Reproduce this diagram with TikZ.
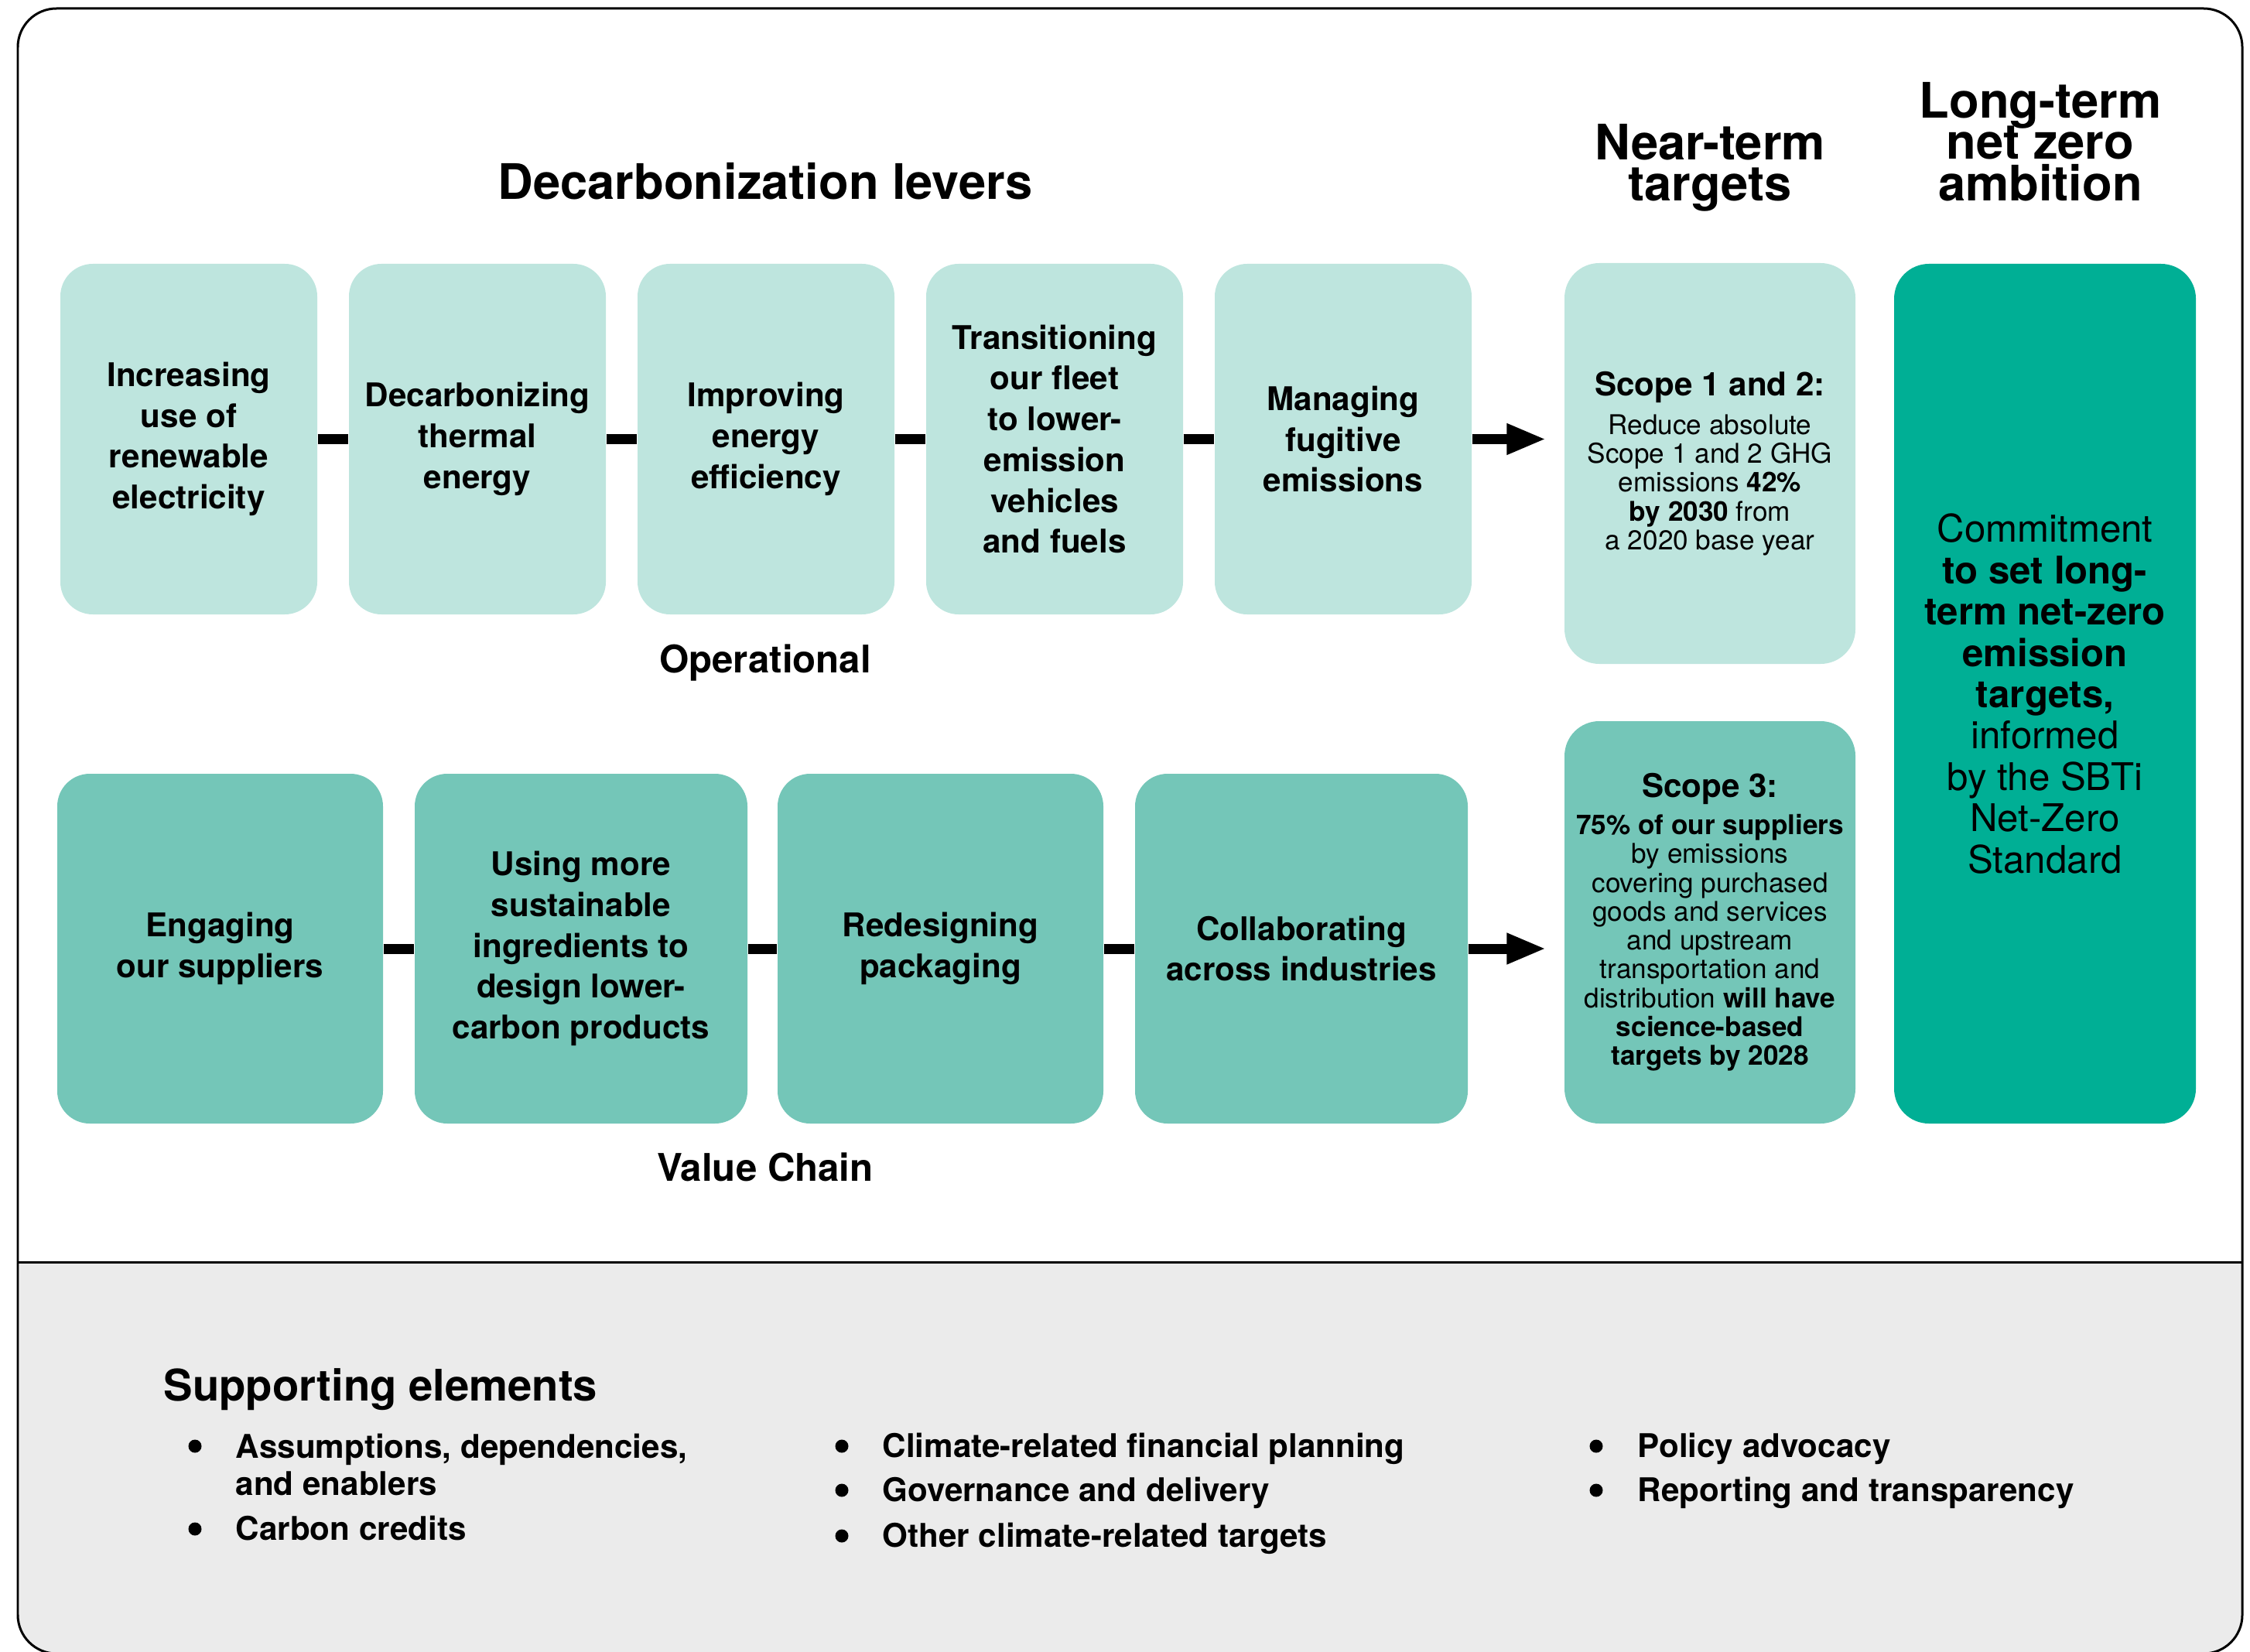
\documentclass[tikz,border=0pt]{standalone}
\usepackage{fontspec}
\setmainfont{TeX Gyre Heros}
\definecolor{oplight}{RGB}{190,229,222}
\definecolor{chainmid}{RGB}{116,198,184}
\definecolor{zerodark}{RGB}{0,175,149}
\definecolor{supportgrey}{RGB}{235,235,235}
\usetikzlibrary{calc, arrows, arrows.meta, shapes}
\tikzstyle{leverbox} = [
    rectangle,
    rounded corners = 0.42cm,
    minimum width = 3.32cm,
    minimum height = 4.53cm,
    inner sep = 0pt,
    align = center,
    font = \fontsize{12}{15}\selectfont\bfseries,
    fill = oplight
]
\tikzstyle{chainbox} = [
    leverbox,
    minimum height = 4.52cm,
    fill = chainmid
]
\tikzstyle{targetbox} = [
    rectangle,
    rounded corners = 0.45cm,
    minimum width = 3.76cm,
    inner sep = 0pt,
    align = center,
    font = \fontsize{10}{10.6}\selectfont
]
\tikzstyle{ambitionbox} = [
    rectangle,
    rounded corners = 0.45cm,
    minimum width = 3.90cm,
    minimum height = 11.11cm,
    inner sep = 0pt,
    align = center,
    font = \fontsize{14}{15.2}\selectfont,
    fill = zerodark
]
\tikzstyle{headline} = [
    inner sep = 0pt,
    align = center,
    font = {\fontsize{18}{15.3}\selectfont\bfseries\lineskiplimit -20pt\relax}
]
\tikzstyle{rowlabel} = [
    inner sep = 0pt,
    anchor = base,
    font = \fontsize{14}{16}\selectfont\bfseries
]
\tikzstyle{link} = [line width = 0.13cm]
\tikzstyle{flow} = [
    link,
    -{Triangle[length=0.51cm, width=0.37cm]},
    shorten >= 0.23cm
]
\tikzstyle{dot} = [circle, fill = black, inner sep = 0pt, minimum size = 0.17cm]
\tikzstyle{supportitem} = [
    inner sep = 0pt,
    align = left,
    font = \fontsize{12}{13.7}\selectfont\bfseries
]

\begin{document}
\begin{tikzpicture}

        \useasboundingbox (0,0) rectangle (29.08,-21.34);

        %% Frame
        \begin{scope}
            \clip (0,-16.31) rectangle (29.08,-21.34);
            \fill [supportgrey, rounded corners=0.5cm] (0.23,-0.11) rectangle (28.98,-21.37);
        \end{scope}
        \draw [line width=0.03cm, rounded corners=0.5cm] (0.23,-0.11) rectangle (28.98,-21.37);
        \draw [line width=0.03cm] (0.23,-16.31) -- (28.98,-16.31);

        %% Headings
        \node (levers) [headline, anchor=base] at (9.89,-2.58) {Decarbonization levers};
        \node (nearterm) [headline, anchor=north] at (22.10,-1.594) {Near-term\\targets};
        \node (longterm) [headline, anchor=north] at (26.37,-1.054) {Long-term\\net zero\\ambition};

        %% Operational
        \node (renewable) [leverbox] at (2.44,-5.675) {Increasing\\use of\\renewable\\electricity};
        \node (thermal) [leverbox] at (6.17,-5.675) {Decarbonizing\\thermal\\energy};
        \node (efficiency) [leverbox] at (9.90,-5.675) {Improving\\energy\\efficiency};
        \node (fleet) [leverbox] at (13.63,-5.675) {Transitioning\\our fleet\\to lower-\\emission\\vehicles\\and fuels};
        \node (fugitive) [leverbox] at (17.36,-5.675) {Managing\\fugitive\\emissions};
        \node (operational) [rowlabel] at (9.89,-8.69) {Operational};

        %% Value chain
        \node (suppliers) [chainbox, minimum width=4.21cm] at (2.845,-12.26) {Engaging\\our suppliers};
        \node (ingredients) [chainbox, minimum width=4.30cm] at (7.51,-12.26) {Using more\\sustainable\\ingredients to\\design lower-\\carbon products};
        \node (packaging) [chainbox, minimum width=4.21cm] at (12.155,-12.26) {Redesigning\\packaging};
        \node (industries) [chainbox, minimum width=4.30cm] at (16.82,-12.26) {Collaborating\\across industries};
        \node (valuechain) [rowlabel] at (9.89,-15.26) {Value Chain};

        %% Targets
        \node (scopeA) [targetbox, fill=oplight, minimum height=5.18cm] at (22.10,-5.99) {{\fontsize{12}{14}\selectfont\bfseries Scope 1 and 2:}\\[3.6pt]Reduce absolute\\Scope 1 and 2 GHG\\emissions \textbf{42\%}\\\textbf{by 2030} from\\a 2020 base year};
        \node (scopeB) [targetbox, fill=chainmid, minimum height=5.20cm] at (22.10,-11.92) {{\fontsize{12}{14}\selectfont\bfseries Scope 3:}\\[3pt]\textbf{75\% of our suppliers}\\by emissions\\covering purchased\\goods and services\\and upstream\\transportation and\\distribution \textbf{will have}\\\textbf{science-based}\\\textbf{targets by 2028}};
        \node (commitment) [ambitionbox] at (26.43,-8.965) {Commitment\\\textbf{to set long-}\\\textbf{term net-zero}\\\textbf{emission}\\\textbf{targets,}\\informed\\by the SBTi\\Net-Zero\\Standard};

        %% Connectors
        \draw [link] (renewable) -- (thermal);
        \draw [link] (thermal) -- (efficiency);
        \draw [link] (efficiency) -- (fleet);
        \draw [link] (fleet) -- (fugitive);
        \draw [flow] (fugitive) -- (fugitive -| scopeA.west);
        \draw [link] (suppliers) -- (ingredients);
        \draw [link] (ingredients) -- (packaging);
        \draw [link] (packaging) -- (industries);
        \draw [flow] (industries) -- (industries -| scopeB.west);

        %% Supporting elements
        \node (support) [anchor=base west, inner sep=0pt, font=\fontsize{16}{18}\selectfont\bfseries] at (2.11,-18.10) {Supporting elements};
        \node (assumptionsdot) [dot] at (2.52,-18.69) {};
        \node (assumptions) [supportitem, anchor=north west] at (3.04,-18.526) {Assumptions, dependencies,\\and enablers};
        \node (creditsdot) [dot] at (2.52,-19.76) {};
        \node (credits) [supportitem, anchor=base west] at (3.04,-19.90) {Carbon credits};
        \node (planningdot) [dot] at (10.88,-18.69) {};
        \node (planning) [supportitem, anchor=base west] at (11.40,-18.83) {Climate-related financial planning};
        \node (governancedot) [dot] at (10.88,-19.26) {};
        \node (governance) [supportitem, anchor=base west] at (11.40,-19.40) {Governance and delivery};
        \node (othertargetsdot) [dot] at (10.88,-19.85) {};
        \node (othertargets) [supportitem, anchor=base west] at (11.40,-19.99) {Other climate-related targets};
        \node (advocacydot) [dot] at (20.63,-18.69) {};
        \node (advocacy) [supportitem, anchor=base west] at (21.16,-18.83) {Policy advocacy};
        \node (reportingdot) [dot] at (20.63,-19.26) {};
        \node (reporting) [supportitem, anchor=base west] at (21.16,-19.40) {Reporting and transparency};

    \end{tikzpicture}
\end{document}
